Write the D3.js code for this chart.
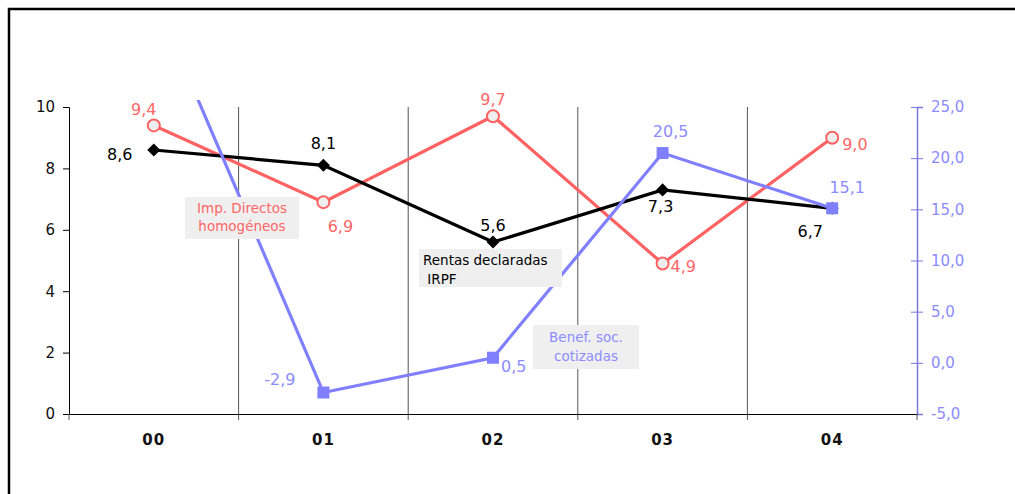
<!DOCTYPE html>
<html>
<head>
<meta charset="utf-8">
<script src="https://cdn.jsdelivr.net/npm/d3@7"></script>
<style>
  body { margin: 0; background: #fff; }
  text { font-family: "DejaVu Sans", Verdana, sans-serif; }
</style>
</head>
<body>
<svg class="chart" width="1015" height="494"></svg>
<script>
// data
var years = ["00", "01", "02", "03", "04"];
var rentasIRPF = [8.6, 8.1, 5.6, 7.3, 6.7];        // left axis
var impDirectos = [9.4, 6.9, 9.7, 4.9, 9.0];       // left axis
var benefSoc = [35.8, -2.9, 0.5, 20.5, 15.1];      // right axis
var leftTicks = [0, 2, 4, 6, 8, 10];
var rightTicks = [-5, 0, 5, 10, 15, 20, 25];

var svg = d3.select('.chart');

// plot area
var plotLeft = 69, plotRight = 917, plotTop = 107, plotBottom = 414;

var x = d3.scaleBand().domain(years).range([plotLeft, plotRight]).padding(0);
var y0 = d3.scaleLinear().domain([0, 10]).range([plotBottom, plotTop]);
var y1 = d3.scaleLinear().domain([-5, 25]).range([plotBottom, plotTop]);

var comma = function(f) {
    return function(d) { return d3.format(f)(d).replace(".", ",").replace("\u2212", "-"); };
};

// outer frame
svg.append("rect")
    .attr("x", 9).attr("y", 9)
    .attr("width", 1030).attr("height", 520)
    .attr("fill", "none")
    .attr("stroke", "#000")
    .attr("stroke-width", 2.5);

// clip so the off-scale blue point gets cut at the top
svg.append("clipPath").attr("id", "plotclip")
    .append("rect")
    .attr("x", plotLeft).attr("y", 100)
    .attr("width", plotRight - plotLeft).attr("height", plotBottom - 100 + 20);

// vertical separators between categories
var bounds = years.map(function(d) { return x(d); }).concat([plotRight]);
svg.append("g").selectAll("line")
    .data(bounds.slice(1, -1))
    .enter().append("line")
    .attr("x1", function(d) { return d; })
    .attr("x2", function(d) { return d; })
    .attr("y1", plotTop).attr("y2", plotBottom + 6)
    .attr("stroke", "#555")
    .attr("stroke-width", 1);

// left axis
var gLeft = svg.append("g")
    .attr("transform", "translate(" + plotLeft + ",0)")
    .call(d3.axisLeft(y0).tickValues(leftTicks).tickSize(6).tickPadding(8));
gLeft.select(".domain").attr("stroke", "#000");
gLeft.selectAll("text").style("font-size", "15px").attr("fill", "#111");

// right axis
var gRight = svg.append("g")
    .attr("transform", "translate(" + plotRight + ",0)")
    .call(d3.axisRight(y1).tickValues(rightTicks).tickFormat(comma(".1f")).tickSize(6).tickPadding(8));
gRight.select(".domain").attr("stroke", "#7878e0").attr("stroke-width", 1.5);
gRight.selectAll(".tick line").attr("x1", -6).attr("stroke", "#7878e0");
gRight.selectAll("text").style("font-size", "15px").attr("fill", "#8c8cff");

// x axis
var gX = svg.append("g")
    .attr("transform", "translate(0," + plotBottom + ")")
    .call(d3.axisBottom(x).tickSize(0).tickPadding(20));
gX.select(".domain").attr("stroke", "#000").attr("stroke-width", 1.2);
gX.selectAll("text")
    .style("font-size", "15px")
    .style("font-weight", "bold")
    .style("letter-spacing", "1px")
    .attr("fill", "#111");
svg.append("g").selectAll("line")
    .data([plotLeft, plotRight])
    .enter().append("line")
    .attr("x1", function(d) { return d; })
    .attr("x2", function(d) { return d; })
    .attr("y1", plotBottom).attr("y2", plotBottom + 6)
    .attr("stroke", "#555");

var cx = function(d, i) { return x(years[i]) + x.bandwidth() / 2; };

// series lines (blue last, it sits on top in the original)
var series = [
    { values: impDirectos, scale: y0, color: "#ff6262" },
    { values: rentasIRPF, scale: y0, color: "#000" },
    { values: benefSoc, scale: y1, color: "#8080ff" }
];
var lines = svg.append("g").attr("clip-path", "url(#plotclip)");
series.forEach(function(s) {
    lines.append("path")
        .datum(s.values)
        .attr("fill", "none")
        .attr("stroke", s.color)
        .attr("stroke-width", 3.2)
        .attr("d", d3.line().x(cx).y(function(d) { return s.scale(d); }));
});

// markers
svg.append("g").selectAll("circle")
    .data(impDirectos)
    .enter().append("circle")
    .attr("cx", cx)
    .attr("cy", function(d) { return y0(d); })
    .attr("r", 6)
    .attr("fill", "#eee")
    .attr("stroke", "#ff6262")
    .attr("stroke-width", 2);

// diamonds = squares turned 45 degrees
svg.append("g").selectAll("path")
    .data(rentasIRPF)
    .enter().append("path")
    .attr("transform", function(d, i) { return "translate(" + cx(d, i) + "," + y0(d) + ") rotate(45)"; })
    .attr("d", d3.symbol().type(d3.symbolSquare).size(85))
    .attr("fill", "#000");

svg.append("g").selectAll("rect")
    .data(benefSoc.slice(1))
    .enter().append("rect")
    .attr("x", function(d, i) { return cx(d, i + 1) - 6; })
    .attr("y", function(d) { return y1(d) - 6; })
    .attr("width", 12).attr("height", 12)
    .attr("fill", "#8080ff");

// value labels (dx, dy, anchor) placed like the original
var labelPos = {
    black: [[-34, 10, "middle"], [0, -16, "middle"], [0, -11, "middle"], [-2, 22, "middle"], [-22, 29, "middle"]],
    red: [[-10, -10, "middle"], [17, 30, "middle"], [0, -11, "middle"], [8, 8, "start"], [10, 12, "start"]],
    blue: [null, [-28, -8, "end"], [8, 14, "start"], [8, -16, "middle"], [15, -15, "middle"]]
};

function addLabels(values, scale, pos, color) {
    var g = svg.append("g");
    values.forEach(function(d, i) {
        if (!pos[i]) return;   // first blue point is off the scale, no label
        g.append("text")
            .attr("x", cx(d, i) + pos[i][0])
            .attr("y", scale(d) + pos[i][1])
            .attr("text-anchor", pos[i][2])
            .style("font-size", "16px")
            .attr("fill", color)
            .text(comma(".1f")(d));
    });
}
addLabels(rentasIRPF, y0, labelPos.black, "#000");
addLabels(impDirectos, y0, labelPos.red, "#ff6666");
addLabels(benefSoc, y1, labelPos.blue, "#8c8cff");

// series name boxes
var boxes = [
    { x: 185, y: 197, w: 114, h: 42, color: "#ff6666", anchor: "middle", lines: ["Imp. Directos", "homogéneos"], tx: [242, 242], ty: [213, 231] },
    { x: 419, y: 249, w: 143, h: 38, color: "#000", anchor: "start", lines: ["Rentas declaradas", " IRPF"], tx: [423, 423], ty: [265, 284] },
    { x: 533, y: 325, w: 106, h: 44, color: "#8c8cff", anchor: "middle", lines: ["Benef. soc.", "cotizadas"], tx: [586, 586], ty: [342, 361] }
];
boxes.forEach(function(b) {
    svg.append("rect")
        .attr("x", b.x).attr("y", b.y)
        .attr("width", b.w).attr("height", b.h)
        .attr("fill", "#efefef");
    b.lines.forEach(function(t, i) {
        svg.append("text")
            .attr("x", b.tx[i]).attr("y", b.ty[i])
            .attr("text-anchor", b.anchor)
            .style("white-space", "pre")
            .style("font-size", "13.5px")
            .attr("fill", b.color)
            .text(t);
    });
});
</script>
</body>
</html>
